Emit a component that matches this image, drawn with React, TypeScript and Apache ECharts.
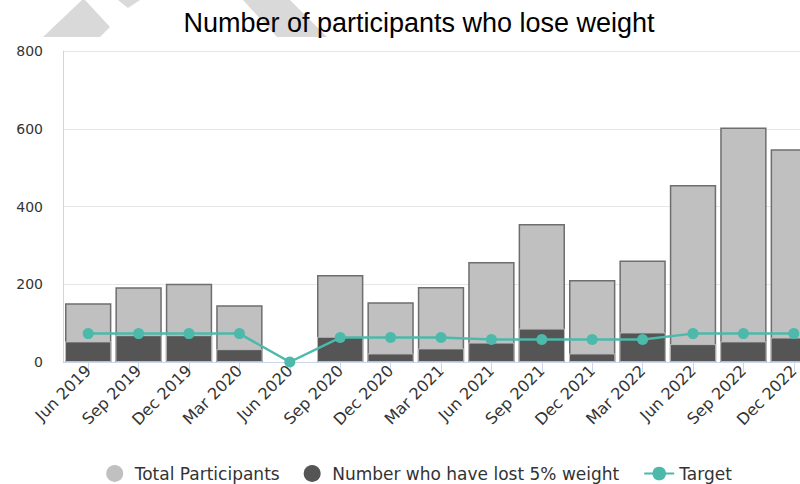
import React, { useEffect, useRef } from "react";
import * as echarts from "echarts";

const categories = [
  "Jun 2019", "Sep 2019", "Dec 2019", "Mar 2020", "Jun 2020", "Sep 2020", "Dec 2020",
  "Mar 2021", "Jun 2021", "Sep 2021", "Dec 2021", "Mar 2022", "Jun 2022", "Sep 2022", "Dec 2022",
];
const totalParticipants = [151, 192, 201, 146, 0, 224, 154, 193, 257, 355, 211, 261, 455, 603, 547];
const lostWeight = [53, 69, 69, 33, 0, 65, 22, 35, 50, 86, 22, 76, 46, 53, 63];
const target = [73, 73, 73, 73, 0, 63, 63, 63, 58, 58, 58, 58, 73, 73, 73];
const yTicks = { min: 0, max: 800, interval: 200 };

const FONT = "'DejaVu Sans', Verdana, sans-serif";

const hideZero = (arr: number[]) =>
  arr.map((v) => (v === 0 ? { value: v, itemStyle: { borderWidth: 0, opacity: 0 } } : v));

export default function App() {
  const ref = useRef<HTMLDivElement>(null);
  useEffect(() => {
    if (!ref.current) return;
    const chart = echarts.init(ref.current, undefined, { renderer: "svg" });
    chart.setOption({
      animation: false,
      backgroundColor: "#ffffff",
      textStyle: { fontFamily: FONT },
      graphic: [
        {
          type: "polygon",
          silent: true,
          shape: { points: [[43, 37], [82, 0], [85, 0], [110, 27], [100, 37]] },
          style: { fill: "#d9d9d9" },
          z: -10,
        },
        {
          type: "polygon",
          silent: true,
          shape: { points: [[118, 0], [140, 0], [128, 8]] },
          style: { fill: "#d9d9d9" },
          z: -10,
        },
        {
          type: "polygon",
          silent: true,
          shape: { points: [[243, 0], [290, 0], [327, 37], [277, 37]] },
          style: { fill: "#d9d9d9" },
          z: -10,
        },
      ],
      title: {
        text: "Number of participants who lose weight",
        left: "center",
        top: 4,
        textStyle: {
          fontFamily: "'Liberation Sans', Arial, sans-serif",
          fontSize: 27,
          fontWeight: "normal",
          color: "#000000",
        },
      },
      legend: {
        bottom: 2,
        left: "center",
        padding: [0, 5],
        itemWidth: 30,
        itemHeight: 17,
        itemGap: 24,
        textStyle: { fontFamily: FONT, fontSize: 17, color: "#333333" },
        data: [
          { name: "Total Participants", icon: "circle", itemStyle: { borderWidth: 0 } },
          { name: "Number who have lost 5% weight", icon: "circle", itemStyle: { borderWidth: 0 } },
          { name: "Target" },
        ],
      },
      grid: { left: 63, right: 19, top: 51, bottom: 122, containLabel: false },
      xAxis: {
        type: "category",
        data: categories,
        boundaryGap: true,
        axisLine: { show: true, lineStyle: { color: "#ccd6eb", width: 1 } },
        axisTick: { show: true, alignWithLabel: true, length: 10, lineStyle: { color: "#ccd6eb" } },
        axisLabel: { rotate: 45, fontSize: 16, color: "#333333", fontFamily: FONT, margin: 6, interval: 0 },
        splitLine: { show: false },
      },
      yAxis: {
        type: "value",
        min: yTicks.min,
        max: yTicks.max,
        interval: yTicks.interval,
        axisLine: { show: true, lineStyle: { color: "#ccd6eb", width: 1 } },
        axisTick: { show: false },
        axisLabel: { fontSize: 14, color: "#333333", fontFamily: FONT, margin: 20 },
        splitLine: { show: true, lineStyle: { color: "#e6e6e6", width: 1 } },
      },
      series: [
        {
          name: "Total Participants",
          type: "bar",
          data: hideZero(totalParticipants),
          barCategoryGap: "8%",
          itemStyle: { color: "#c0c0c0", borderColor: "#6e6e6e", borderWidth: 1.5 },
          z: 2,
        },
        {
          name: "Number who have lost 5% weight",
          type: "bar",
          data: hideZero(lostWeight),
          barGap: "-100%",
          barCategoryGap: "8%",
          itemStyle: { color: "#555555", borderColor: "#bdbdbd", borderWidth: 1 },
          z: 3,
        },
        {
          name: "Target",
          type: "line",
          data: target,
          symbol: "circle",
          symbolSize: 11,
          itemStyle: { color: "#4cb9ab" },
          lineStyle: { color: "#4cb9ab", width: 2.5 },
          z: 5,
        },
      ],
    });
    return () => chart.dispose();
  }, []);
  return (
    <div style={{ position: "fixed", left: 0, top: 0, width: 800, height: 484, overflow: "hidden", background: "#fff" }}>
      <div ref={ref} style={{ width: 838, height: 484 }} />
    </div>
  );
}
